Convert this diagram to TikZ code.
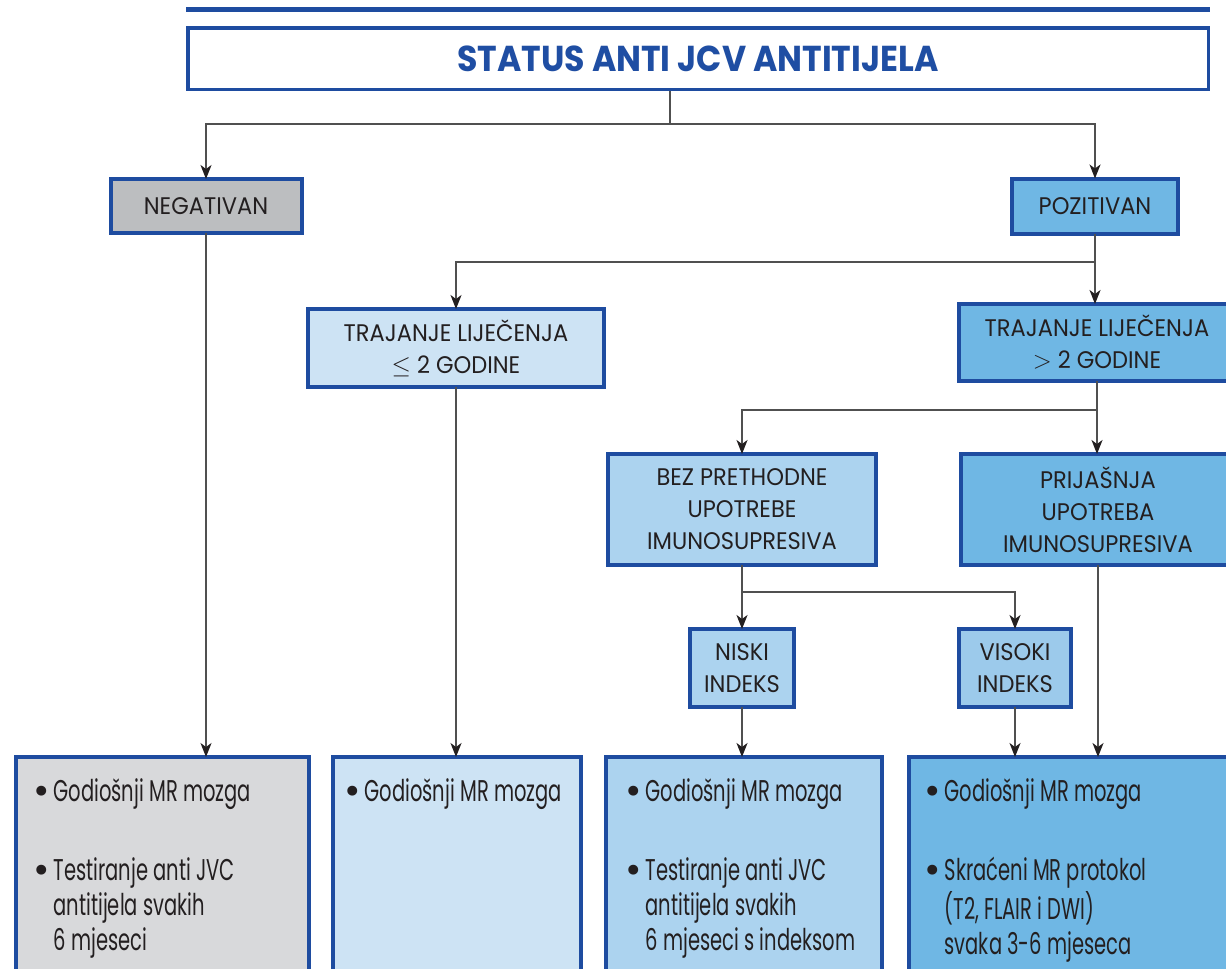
\documentclass[tikz,border=0pt]{standalone}
\usepackage{fontspec}
\setmainfont{Poppins}
\newfontfamily\labfont{Poppins}[FakeStretch=0.94]
\newfontfamily\condfont{Poppins}[FakeStretch=0.65]
\newfontfamily\titfont{Poppins}[FakeStretch=0.92]
\usetikzlibrary{arrows.meta}
\definecolor{bordblue}{RGB}{30,76,160}
\definecolor{titblue}{RGB}{31,78,163}
\definecolor{fgray}{RGB}{188,190,192}
\definecolor{fgraylt}{RGB}{216,217,219}
\definecolor{fbluelt}{RGB}{205,227,244}
\definecolor{fbluemd}{RGB}{172,211,239}
\definecolor{fbluemdd}{RGB}{156,202,235}
\definecolor{fblue}{RGB}{111,183,228}
\definecolor{txtc}{RGB}{35,31,32}
\definecolor{linc}{RGB}{80,80,80}
\tikzset{
  box/.style={draw=bordblue, line width=4pt, rectangle, inner sep=0pt, outer sep=0pt,
    text=txtc, align=center, font=\labfont\fontsize{24}{32}\selectfont},
  bigbox/.style={draw=bordblue, line width=4pt, rectangle, inner sep=0pt, outer sep=0pt, anchor=north west},
  btext/.style={inner sep=0pt, anchor=base west, text=txtc, font=\condfont\fontsize{30}{35}\selectfont},
  conn/.style={draw=linc, line width=1.5pt},
  arr/.style={conn, -{Stealth[length=14pt,width=11pt,inset=4pt,color=txtc]}}
}
\newcommand{\bul}{\raisebox{-3pt}{\fontspec{Poppins}\fontsize{40}{35}\selectfont\textbullet}}
\begin{document}
\begin{tikzpicture}[x=1pt,y=-1pt]
\clip (0,0) rectangle (1226,969);
\fill[white] (0,0) rectangle (1226,969);
% top rule
\coordinate (rl) at (186,9);
\coordinate (rr) at (1210,9);
\draw[bordblue, line width=5pt] (rl) -- (rr);
% title
\node[draw=bordblue, line width=3.5pt, minimum width=1020.5pt, minimum height=61.5pt, inner sep=0pt]
  (title) at (698,58.5) {\titfont\bfseries\fontsize{36}{40}\selectfont\color{titblue}STATUS ANTI JCV ANTITIJELA};
% level 1
\node[box, fill=fgray, minimum width=191pt, minimum height=54pt] (neg) at (206,206) {NEGATIVAN};
\node[box, fill=fblue, minimum width=166pt, minimum height=55pt] (poz) at (1095,206) {POZITIVAN};
% level 2
\node[box, fill=fbluelt, minimum width=296pt, minimum height=78pt] (le2) at (456,348) {TRAJANJE LIJEČENJA\\$\leq$ 2 GODINE};
\node[box, fill=fblue, minimum width=276pt, minimum height=77pt] (gt2) at (1097,342.5) {TRAJANJE LIJEČENJA\\$>$ 2 GODINE};
% level 3
\node[box, fill=fbluemd, minimum width=268pt, minimum height=111pt] (bez) at (742,509.5) {BEZ PRETHODNE\\UPOTREBE\\IMUNOSUPRESIVA};
\node[box, fill=fblue, minimum width=274pt, minimum height=111pt] (prij) at (1098,509.5) {PRIJAŠNJA\\UPOTREBA\\IMUNOSUPRESIVA};
% level 4
\node[box, fill=fbluemd, minimum width=104pt, minimum height=78pt] (nis) at (742,668) {NISKI\\INDEKS};
\node[box, fill=fbluemdd, minimum width=112pt, minimum height=78pt] (vis) at (1015,668) {VISOKI\\INDEKS};
% bottom boxes
\node[bigbox, fill=fgraylt, minimum width=293pt, minimum height=260pt] (b1) at (16,757) {};
\node[bigbox, fill=fbluelt, minimum width=248pt, minimum height=260pt] (b2) at (333,757) {};
\node[bigbox, fill=fbluemd, minimum width=276pt, minimum height=260pt] (b3) at (606,757) {};
\node[bigbox, fill=fblue, minimum width=330pt, minimum height=260pt] (b4) at (909,757) {};
% bottom texts
\node[btext] (t1) at (33,801.5) {\begin{tabular}[t]{@{}l@{\hspace{4pt}}l@{}}\bul&Godiošnji MR mozga\\[44pt]\bul&Testiranje anti JVC\\&antitijela svakih\\&6 mjeseci\end{tabular}};
\node[btext] (t2) at (344,801.5) {\begin{tabular}[t]{@{}l@{\hspace{4pt}}l@{}}\bul&Godiošnji MR mozga\end{tabular}};
\node[btext] (t3) at (625,801.5) {\begin{tabular}[t]{@{}l@{\hspace{4pt}}l@{}}\bul&Godiošnji MR mozga\\[44pt]\bul&Testiranje anti JVC\\&antitijela svakih\\&6 mjeseci s indeksom\end{tabular}};
\node[btext] (t4) at (924,801.5) {\begin{tabular}[t]{@{}l@{\hspace{4pt}}l@{}}\bul&Godiošnji MR mozga\\[44pt]\bul&Skraćeni MR protokol\\&(T2, FLAIR i DWI)\\&svaka 3-6 mjeseca\end{tabular}};
% connectors
\coordinate (s1) at (670,124);
\coordinate (s2) at (1095,262);
\coordinate (s3) at (1097,410);
\coordinate (s4) at (742,592);
\draw[conn] (title.south -| s1) -- (s1);
\draw[arr] (s1) -| (neg.north);
\draw[arr] (s1) -| (poz.north);
\draw[conn] (poz.south) -- (s2);
\draw[arr] (s2) -| (le2.north);
\draw[arr] (s2) -- (gt2.north -| s2);
\draw[conn] (gt2.south -| s3) -- (s3);
\draw[arr] (s3) -| (bez.north);
\draw[arr] (s3) -- (prij.north -| s3);
\draw[conn] (bez.south) -- (s4);
\draw[arr] (s4) -- (nis.north);
\draw[arr] (s4) -| (vis.north);
\draw[arr] (neg.south) -- (neg.south |- b1.north);
\draw[arr] (le2.south) -- (le2.south |- b2.north);
\draw[arr] (nis.south) -- (nis.south |- b3.north);
\draw[arr] (vis.south) -- (vis.south |- b4.north);
\draw[arr] (prij.south) -- (prij.south |- b4.north);
\end{tikzpicture}
\end{document}
